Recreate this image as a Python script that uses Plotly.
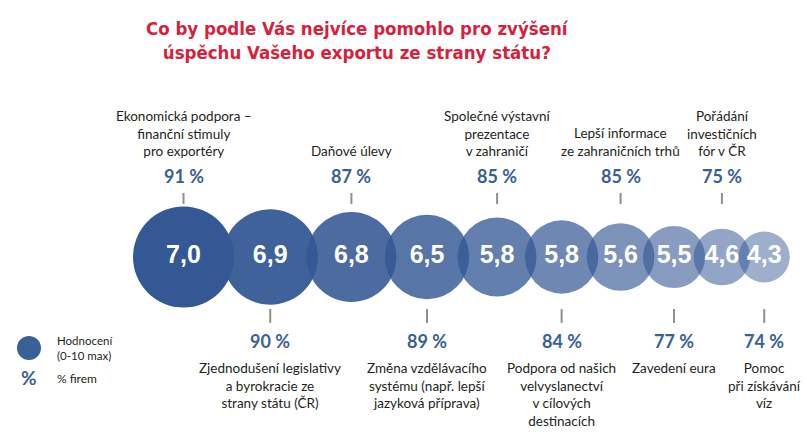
import plotly.graph_objects as go

categories = [
    "Ekonomická podpora –<br>finanční stimuly<br>pro exportéry",
    "Zjednodušení legislativy<br>a byrokracie ze<br>strany státu (ČR)",
    "Daňové úlevy",
    "Změna vzdělávacího<br>systému (např. lepší<br>jazyková příprava)",
    "Společné výstavní<br>prezentace<br>v zahraničí",
    "Podpora od našich<br>velvyslanectví<br>v cílových<br>destinacích",
    "Lepší informace<br>ze zahraničních trhů",
    "Zavedení eura",
    "Pořádání<br>investičních<br>fór v ČR",
    "Pomoc<br>při získávání<br>víz",
]
ratings = [7.0, 6.9, 6.8, 6.5, 5.8, 5.8, 5.6, 5.5, 4.6, 4.3]
percents = [91, 90, 87, 89, 85, 84, 85, 77, 75, 74]

title_text = "Co by podle Vás nejvíce pomohlo pro zvýšení<br>úspěchu Vašeho exportu ze strany státu?"
legend_rating = "Hodnocení<br>(0-10 max)"
legend_pct = "% firem"

# ---- layout helpers (pixel coordinate space) ----
W, H = 807, 442
n = len(ratings)
d_max, d_step = 101.0, 5.55
diam = [d_max - d_step * i for i in range(n)]
overlap = 11.5
xs = [183.5]
for i in range(1, n):
    xs.append(xs[-1] + diam[i - 1] / 2 + diam[i] / 2 - overlap)
cy = 257
alphas = [1.0 - 0.058 * i for i in range(n)]
base = (52, 88, 148)
colors = [f"rgba({base[0]},{base[1]},{base[2]},{a:.3f})" for a in alphas]

BLUE = "#3a5f94"
TEXT = "#231f20"
TICK = "#8f8f8f"
NARROW = "DejaVu Sans Condensed, sans-serif"
NUM = "Liberation Sans, Arial, sans-serif"
BODY = "Lato, Noto Sans, sans-serif"

fig = go.Figure()
fig.add_trace(go.Scatter(
    x=xs, y=[cy] * n, mode="markers+text",
    marker=dict(size=diam, sizemode="diameter", color=colors, opacity=1,
                line=dict(width=0)),
    text=[f"{v:.1f}".replace(".", ",") for v in ratings],
    textposition="middle center",
    textfont=dict(family=NUM, size=25, color="white", weight="bold"),
    hoverinfo="skip", showlegend=False,
))

# legend marker
fig.add_trace(go.Scatter(
    x=[29], y=[348], mode="markers",
    marker=dict(size=24, color="rgb(56,97,149)", opacity=1, line=dict(width=0)),
    hoverinfo="skip", showlegend=False,
))

shapes = []
annotations = []
for i in range(n):
    x = xs[i]
    above = (i % 2 == 0)
    if above:
        shapes.append(dict(type="line", xref="x", yref="y", x0=x, x1=x, y0=193, y1=204,
                           line=dict(color=TICK, width=2)))
        annotations.append(dict(x=x, y=176, text=f"<b>{percents[i]} %</b>", showarrow=False,
                                xanchor="center", yanchor="middle",
                                font=dict(family=BODY, size=18, color=BLUE)))
        annotations.append(dict(x=x, y=161, text=categories[i], showarrow=False,
                                xanchor="center", yanchor="bottom", align="center",
                                font=dict(family=BODY, size=13.5, color=TEXT)))
    else:
        shapes.append(dict(type="line", xref="x", yref="y", x0=x, x1=x, y0=309, y1=323,
                           line=dict(color=TICK, width=2)))
        annotations.append(dict(x=x, y=341, text=f"<b>{percents[i]} %</b>", showarrow=False,
                                xanchor="center", yanchor="middle",
                                font=dict(family=BODY, size=18, color=BLUE)))
        annotations.append(dict(x=x, y=358, text=categories[i], showarrow=False,
                                xanchor="center", yanchor="top", align="center",
                                font=dict(family=BODY, size=13.5, color=TEXT)))

# legend texts
annotations.append(dict(x=55, y=348, text=legend_rating, showarrow=False, xanchor="left",
                        yanchor="middle", align="left",
                        font=dict(family=BODY, size=11.5, color=TEXT)))
annotations.append(dict(x=29, y=377, text="<b>%</b>", showarrow=False, xanchor="center",
                        yanchor="middle", font=dict(family=BODY, size=19, color=BLUE)))
annotations.append(dict(x=55, y=378, text=legend_pct, showarrow=False, xanchor="left",
                        yanchor="middle", font=dict(family=BODY, size=12, color=TEXT)))

# title
annotations.append(dict(x=357, y=40, text=f"<b>{title_text}</b>", showarrow=False,
                        xanchor="center", yanchor="middle", align="center",
                        font=dict(family=NARROW, size=18.5, color="#d7213b")))

fig.update_layout(
    width=W, height=H, margin=dict(l=0, r=0, t=0, b=0),
    paper_bgcolor="white", plot_bgcolor="white",
    xaxis=dict(range=[0, W], visible=False, fixedrange=True),
    yaxis=dict(range=[H, 0], visible=False, fixedrange=True),
    shapes=shapes, annotations=annotations,
)
fig.write_html("out.html")
